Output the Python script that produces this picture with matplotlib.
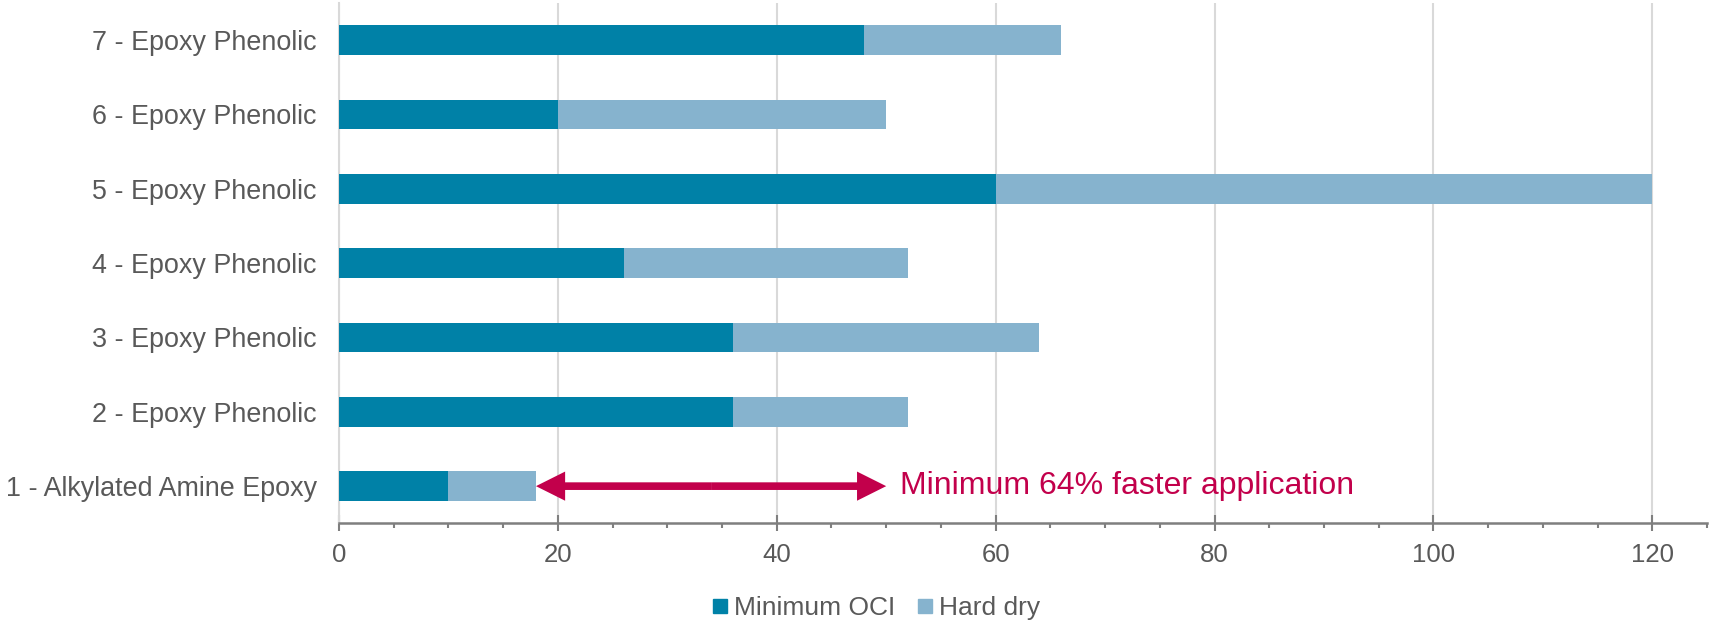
import matplotlib
matplotlib.use("Agg")
import matplotlib.pyplot as plt
from matplotlib.lines import Line2D
from matplotlib.patches import FancyArrowPatch
import numpy as np

# Coating cure times
categories = [
    "1 - Alkylated Amine Epoxy",
    "2 - Epoxy Phenolic",
    "3 - Epoxy Phenolic",
    "4 - Epoxy Phenolic",
    "5 - Epoxy Phenolic",
    "6 - Epoxy Phenolic",
    "7 - Epoxy Phenolic",
]
min_oci = [10, 36, 36, 26, 60, 20, 48]
hard_dry = [8, 16, 28, 26, 60, 30, 18]
series_names = ["Minimum OCI", "Hard dry"]
x_ticks = [0, 20, 40, 60, 80, 100, 120]
callout = "Minimum 64% faster application"

dark = "#0081A7"
light = "#86B3CE"
accent = "#C2004B"
text_grey = "#595959"

plt.rcParams["font.family"] = ["Liberation Sans", "DejaVu Sans"]

fig = plt.figure(figsize=(17.11, 6.25), dpi=100)
ax = fig.add_axes([0.1981, 0.1627, 0.7996, 0.8325])

y = np.arange(len(categories))
ax.barh(y, min_oci, height=0.4, color=dark, zorder=3)
ax.barh(y, hard_dry, left=min_oci, height=0.4, color=light, zorder=3)

ax.set_xlim(0, 125)
ax.set_ylim(-0.5, len(categories) - 0.5)
ax.set_yticks(y)
ax.set_yticklabels(categories, fontsize=19.4, color=text_grey)
ax.tick_params(axis="y", length=0, pad=16)

ax.set_xticks(x_ticks)
ax.set_xticks(np.arange(0, 126, 5), minor=True)
ax.tick_params(axis="x", which="major", direction="inout", length=11, width=1.5,
               color="#7f7f7f", labelsize=18.5, labelcolor=text_grey, pad=9)
ax.tick_params(axis="x", which="minor", direction="out", length=3.8, width=1.5,
               color="#7f7f7f")

ax.grid(axis="x", which="major", color="#d9d9d9", lw=1.5, zorder=0)
for s in ["top", "right"]:
    ax.spines[s].set_visible(False)
ax.spines["left"].set_color("#d9d9d9")
ax.spines["left"].set_linewidth(1.5)
ax.spines["bottom"].set_color("#7f7f7f")
ax.spines["bottom"].set_linewidth(1.8)
ax.spines["bottom"].set_zorder(4)

# Double-headed arrow between the alkylated amine total and the fastest phenolic total
totals = [a + b for a, b in zip(min_oci, hard_dry)]
x_start = totals[0]
x_end = min(totals[1:])
x_mid = (x_start + x_end) / 2
for tip in (x_start, x_end):
    arr = FancyArrowPatch((x_mid, 0), (tip, 0),
                          arrowstyle="simple,head_length=21,head_width=21,tail_width=5.5",
                          mutation_scale=1, shrinkA=0, shrinkB=0,
                          color=accent, lw=0, zorder=5)
    ax.add_patch(arr)
ax.text(x_end + 1.3, 0, callout, color=accent, fontsize=23, ha="left", va="center",
        zorder=5)

handles = [
    Line2D([], [], marker="s", ls="none", ms=10, color=dark),
    Line2D([], [], marker="s", ls="none", ms=10, color=light),
]
fig.legend(handles, series_names, loc="center", bbox_to_anchor=(0.512, 0.027),
           ncol=2, frameon=False, fontsize=19, labelcolor=text_grey,
           handletextpad=0.25, columnspacing=0.8, handlelength=0.6)

fig.savefig("out.png", dpi=100)
